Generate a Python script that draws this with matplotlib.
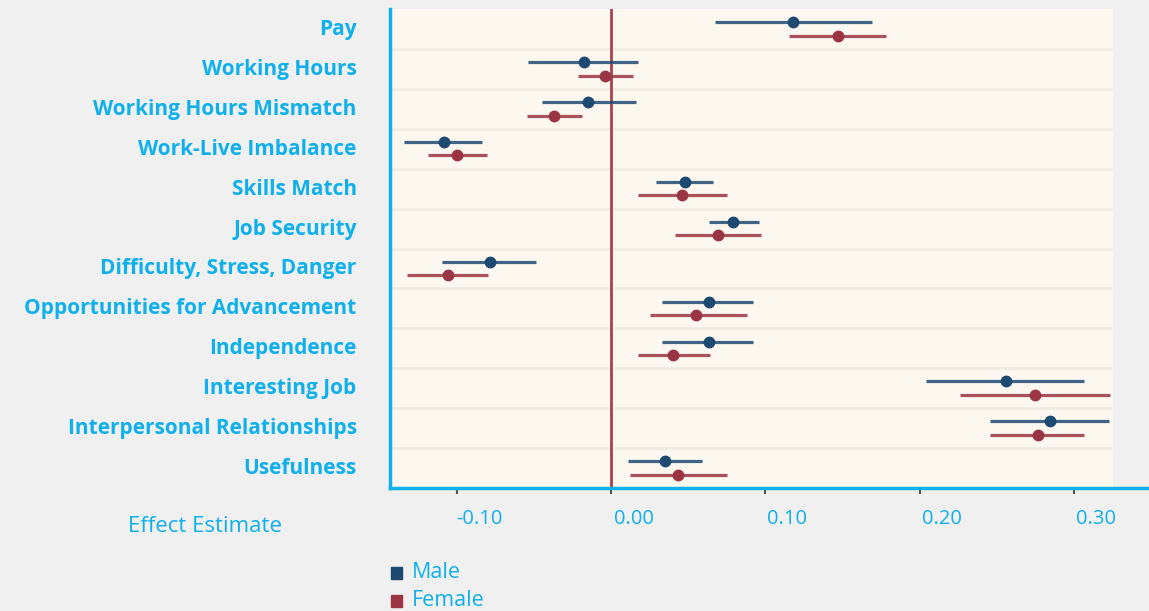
import matplotlib
matplotlib.use("Agg")
import numpy as np
import matplotlib.pyplot as plt
from matplotlib.transforms import ScaledTranslation

# Job attributes and effect estimates with confidence intervals
attributes = ["Pay", "Working Hours", "Working Hours Mismatch", "Work-Live Imbalance",
              "Skills Match", "Job Security", "Difficulty, Stress, Danger",
              "Opportunities for Advancement", "Independence", "Interesting Job",
              "Interpersonal Relationships", "Usefulness"]

male_est = [0.118, -0.018, -0.015, -0.109, 0.048, 0.079, -0.079, 0.063, 0.063, 0.256, 0.285, 0.035]
male_lo = [0.067, -0.054, -0.045, -0.135, 0.029, 0.063, -0.110, 0.033, 0.033, 0.204, 0.246, 0.011]
male_hi = [0.169, 0.017, 0.016, -0.084, 0.066, 0.096, -0.049, 0.092, 0.092, 0.307, 0.323, 0.059]

female_est = [0.147, -0.004, -0.037, -0.100, 0.046, 0.069, -0.106, 0.055, 0.040, 0.275, 0.277, 0.043]
female_lo = [0.115, -0.022, -0.055, -0.119, 0.017, 0.041, -0.133, 0.025, 0.017, 0.226, 0.246, 0.012]
female_hi = [0.178, 0.014, -0.019, -0.081, 0.075, 0.097, -0.080, 0.088, 0.064, 0.324, 0.307, 0.075]

xticks = [-0.10, 0.00, 0.10, 0.20, 0.30]
xtick_labels = ["-0.10", "0.00", "0.10", "0.20", "0.30"]

BG = "#f0f0f0"
CREAM = "#fdf8ef"
CYAN = "#0fb0ec"
MALE = "#1d4a73"
FEMALE = "#9b3443"
ZERO = "#a8404f"

plt.rcParams["font.family"] = ["Open Sans", "DejaVu Sans"]

fig = plt.figure(figsize=(11.49, 6.11), dpi=100, facecolor=BG)
ax = fig.add_axes([390 / 1149, 123 / 611, 1 - 390 / 1149, (488 - 9) / 611])
ax.set_facecolor(BG)

xmin, xmax, xcream = -0.1438, 0.349, 0.325
n = len(attributes)
ax.set_xlim(xmin, xmax)
ax.set_ylim(n - 0.5, -0.5)

# cream plotting area and row separators
ax.axvspan(xmin, xcream, color=CREAM, zorder=0)
for k in range(n - 1):
    ax.hlines(k + 0.5, xmin, xcream, color="#f1ece2", lw=2.0, zorder=1)

ax.axvline(0, color=ZERO, lw=2, zorder=2)

y = np.arange(n)
off = 0.17
for est, lo, hi, col, dy in [(male_est, male_lo, male_hi, MALE, -off),
                             (female_est, female_lo, female_hi, FEMALE, off)]:
    est = np.array(est)
    ax.hlines(y + dy, lo, hi, color=col, lw=2.3, alpha=0.85, zorder=3)
    ax.plot(est, y + dy, "o", color=col, ms=7.5, zorder=4)

ax.set_yticks(y)
ax.set_yticklabels(attributes, color=CYAN, fontsize=15, fontweight="bold")
ax.tick_params(axis="y", length=0, pad=24)
shift_up = ScaledTranslation(0, 0.02, fig.dpi_scale_trans)
for lab in ax.get_yticklabels():
    lab.set_transform(lab.get_transform() + shift_up)

ax.set_xticks(xticks)
ax.set_xticklabels(xtick_labels, color=CYAN, fontsize=14.5)
ax.tick_params(axis="x", length=4, width=1.5, color="#555555", pad=11)
shift = ScaledTranslation(0.22, 0, fig.dpi_scale_trans)
for lab in ax.get_xticklabels():
    lab.set_transform(lab.get_transform() + shift)

for s in ["top", "right"]:
    ax.spines[s].set_visible(False)
ax.spines["left"].set_color(CYAN)
ax.spines["left"].set_linewidth(2.5)
ax.spines["bottom"].set_color(CYAN)
ax.spines["bottom"].set_linewidth(2.5)

fig.text(128 / 1149, 1 - 527 / 611, "Effect Estimate", color=CYAN, fontsize=16,
         ha="left", va="center")

# legend entries
for ypix, name, col in [(573, "Male", MALE), (601, "Female", FEMALE)]:
    fig.patches.append(plt.Rectangle((391 / 1149, 1 - (ypix + 6) / 611), 11 / 1149, 12 / 611,
                                     transform=fig.transFigure, color=col))
    fig.text(412 / 1149, 1 - ypix / 611, name, color=CYAN, fontsize=15.5,
             ha="left", va="center")

fig.savefig("out.png", dpi=100, facecolor=BG)
